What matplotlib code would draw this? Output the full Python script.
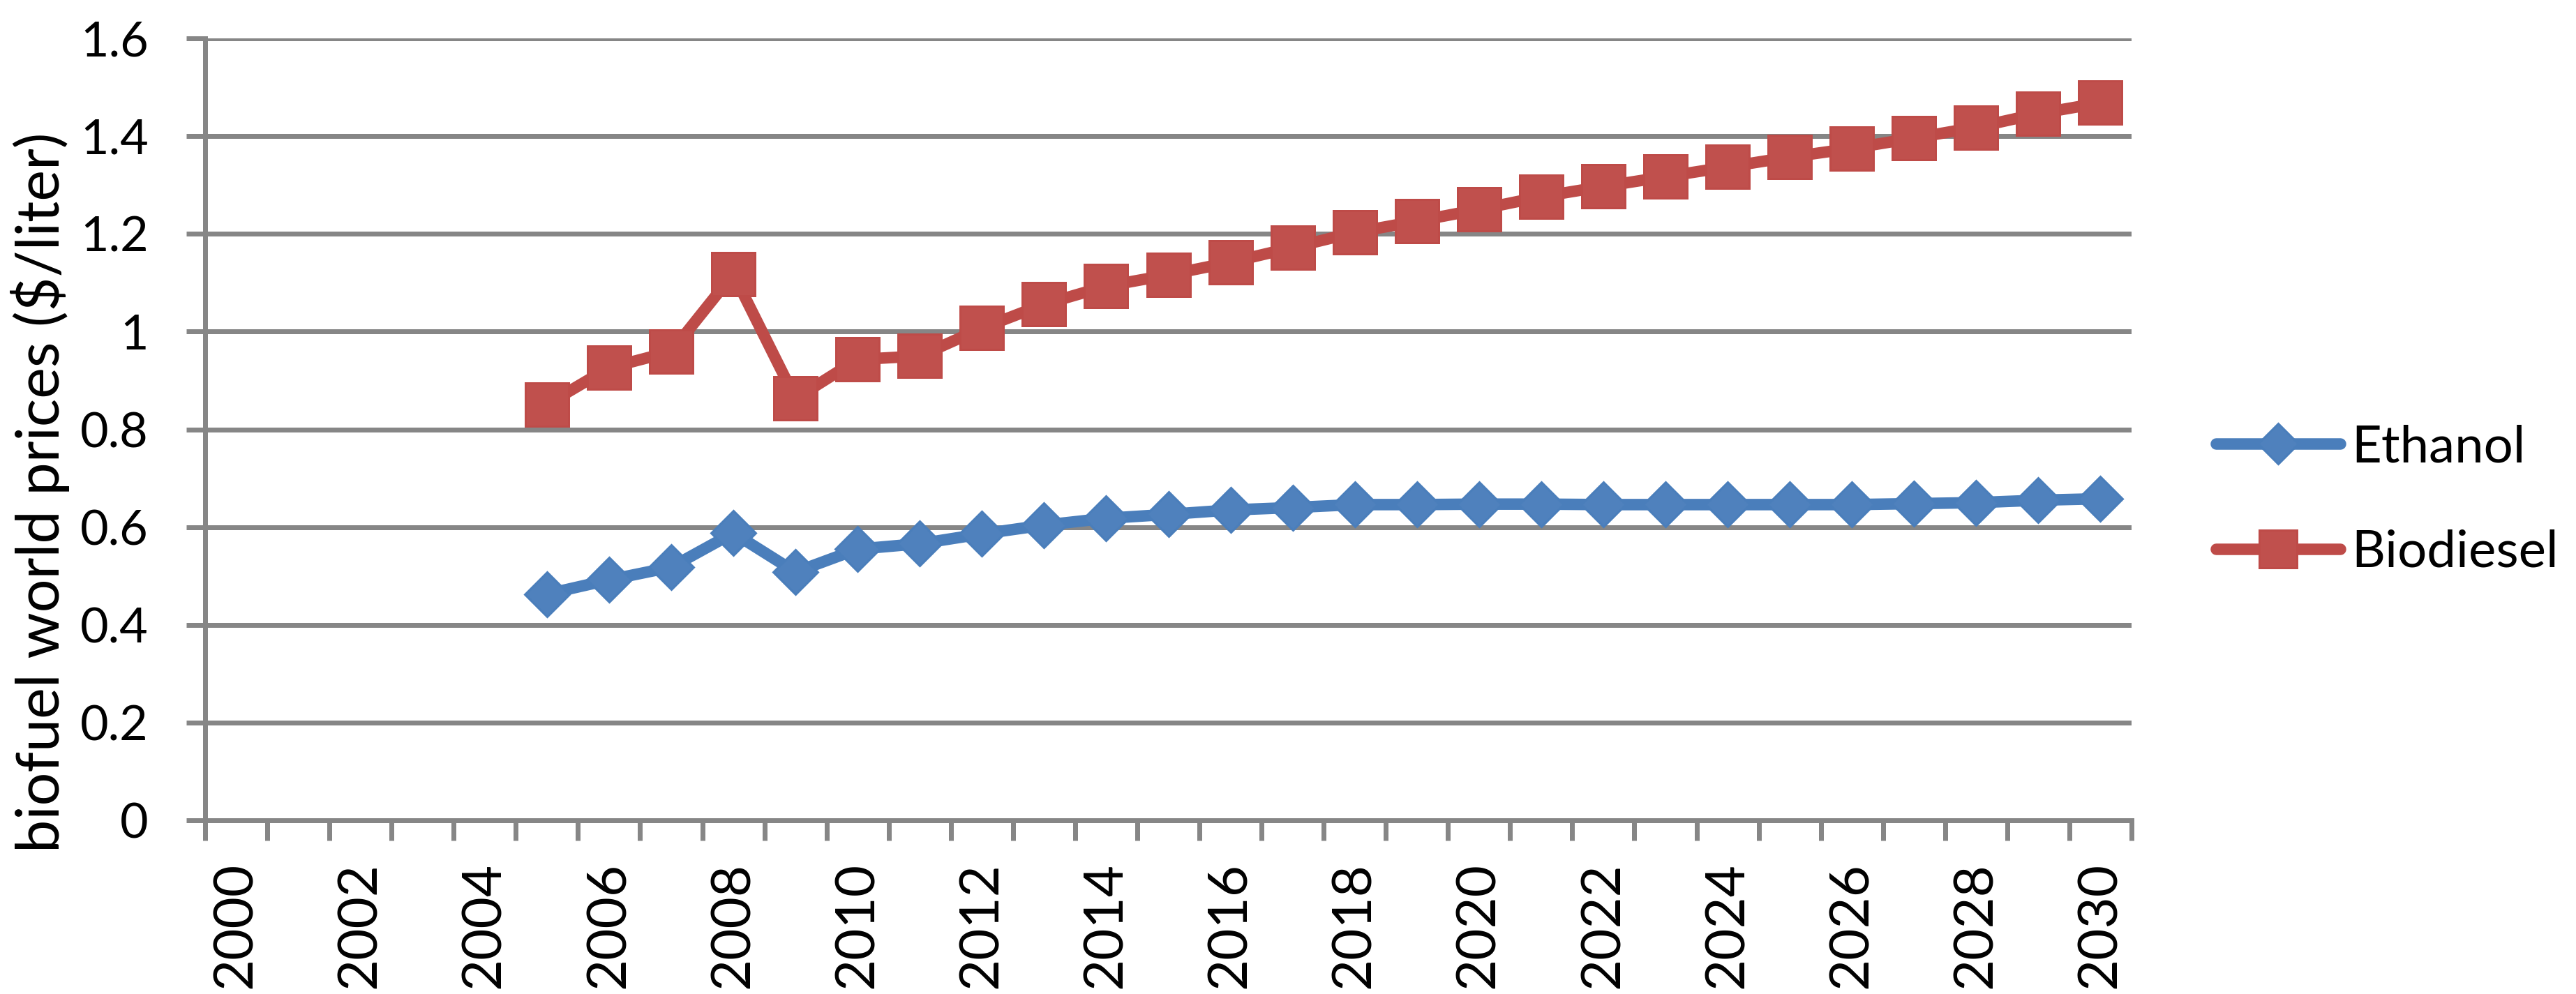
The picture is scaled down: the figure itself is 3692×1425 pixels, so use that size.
import numpy as np
import matplotlib
matplotlib.use("Agg")
import matplotlib.pyplot as plt
from matplotlib.ticker import FixedLocator

# ---- data ----
years = list(range(2000, 2031))
data_years = list(range(2005, 2031))
ethanol = [0.463, 0.492, 0.518, 0.588, 0.508, 0.555, 0.566, 0.586, 0.604, 0.618,
           0.626, 0.635, 0.640, 0.646, 0.646, 0.647, 0.647, 0.646, 0.646, 0.646,
           0.646, 0.646, 0.648, 0.650, 0.655, 0.658]
biodiesel = [0.851, 0.926, 0.959, 1.118, 0.863, 0.943, 0.950, 1.007, 1.056, 1.093,
             1.116, 1.142, 1.172, 1.203, 1.226, 1.250, 1.276, 1.297, 1.317, 1.337,
             1.357, 1.375, 1.396, 1.418, 1.446, 1.468]
y_ticks = [0, 0.2, 0.4, 0.6, 0.8, 1.0, 1.2, 1.4, 1.6]
y_tick_labels = ["0", "0.2", "0.4", "0.6", "0.8", "1", "1.2", "1.4", "1.6"]
x_tick_labels = [str(y) for y in years[::2]]
series_names = ["Ethanol", "Biodiesel"]
y_title = "biofuel world prices ($/liter)"

plt.rcParams['font.family'] = ['Lato', 'DejaVu Sans']

W, H = 3692, 1425
DPI = 100
PX = 72.0 / DPI  # points per pixel

fig = plt.figure(figsize=(W / DPI, H / DPI), dpi=DPI)
renderer = fig.canvas.get_renderer()


def fit_size(s, target_px):
    """font size (pt) so that string s spans target_px along its reading direction"""
    t = fig.text(0, 0, s, fontsize=100)
    w = t.get_window_extent(renderer).width
    t.remove()
    return 100 * target_px / w


fs_ytick = fit_size("1.6", 98)
fs_xtick = fit_size("2014", 181)
fs_leg = fit_size("Biodiesel", 296)
fs_ylab = fit_size(y_title, 1033)

left, right, top, bottom = 294, 3055, 55, 1176
ax = fig.add_axes([left / W, 1 - bottom / H, (right - left) / W, (bottom - top) / H])

grid_col = "#868686"
pos = {yr: i for i, yr in enumerate(years)}
xs = [pos[y] for y in data_years]

ax.plot(xs, ethanol, color="#4A7EBB", lw=16.5 * PX, marker="D",
        ms=33, mfc="#4F81BD", mec="#4A7EBB", mew=3 * PX,
        solid_capstyle="round", solid_joinstyle="round", label=series_names[0], zorder=3)
ax.plot(xs, biodiesel, color="#BE4B48", lw=16.5 * PX, marker="s",
        ms=44, mfc="#C0504D", mec="#BE4B48", mew=3 * PX,
        solid_capstyle="round", solid_joinstyle="round", label=series_names[1], zorder=3)

ax.set_xlim(-0.5, len(years) - 0.5)
ax.set_ylim(0, 1.6)

# y axis
ax.set_yticks(y_ticks)
ax.set_yticklabels(y_tick_labels, fontsize=fs_ytick)
ax.yaxis.grid(True, color=grid_col, lw=7 * PX)
ax.set_axisbelow(True)
ax.tick_params(axis="y", direction="out", length=27 * PX, width=7 * PX,
               color=grid_col, pad=54 * PX)

# x axis: labels at category centers, ticks at category boundaries
ax.set_xticks(range(0, len(years), 2))
ax.set_xticklabels(x_tick_labels, rotation=90, fontsize=fs_xtick)
ax.xaxis.set_minor_locator(FixedLocator(np.arange(-0.5, len(years), 1.0)))
ax.tick_params(axis="x", which="major", length=0, pad=60 * PX)
ax.tick_params(axis="x", which="minor", direction="out", length=29 * PX,
               width=7 * PX, color=grid_col)

for s in ["top", "right"]:
    ax.spines[s].set_visible(False)
for s in ["left", "bottom"]:
    ax.spines[s].set_color(grid_col)
    ax.spines[s].set_linewidth(7 * PX)

fig.text(58 / W, 1 - 706 / H, y_title, rotation=90, ha="center", va="center",
         fontsize=fs_ylab)

leg = fig.legend(loc="center left", bbox_to_anchor=(3176 / W, 1 - 717 / H),
                 frameon=False, fontsize=fs_leg, handlelength=178 / (fs_leg / PX),
                 handletextpad=16 / (fs_leg / PX), labelspacing=1.12, borderpad=0,
                 borderaxespad=0, markerscale=0.88)

fig.savefig("out.png", dpi=DPI)
